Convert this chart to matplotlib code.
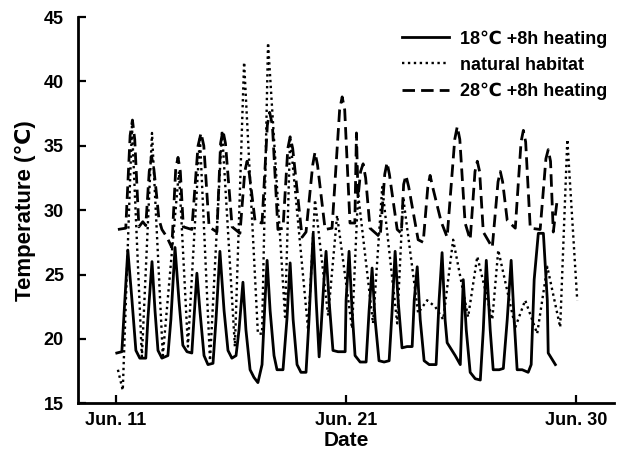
import matplotlib
matplotlib.use("Agg")
import matplotlib.pyplot as plt

plt.rcParams['font.family'] = ['Liberation Sans', 'DejaVu Sans']
plt.rcParams['font.weight'] = 'bold'

# days counted from Jun. 11
tick_pos = [0, 10, 20]
tick_labels = ["Jun. 11", "Jun. 21", "Jun. 30"]

# 18°C +8h heating
heat18_day = [0.04, 0.26, 0.39, 0.52, 0.70, 0.87, 1.04, 1.30, 1.39, 1.57, 1.70, 1.83, 2.00, 2.26,
              2.39, 2.57, 2.74, 2.91, 3.09, 3.30, 3.39, 3.52, 3.65, 3.83, 4.00, 4.22, 4.35, 4.52,
              4.70, 4.87, 5.04, 5.22, 5.35, 5.52, 5.65, 5.83, 6.00, 6.17, 6.35, 6.48, 6.57, 6.70,
              6.87, 7.00, 7.26, 7.43, 7.57, 7.70, 7.87, 8.04, 8.26, 8.39, 8.57, 8.70, 8.83, 8.91,
              9.04, 9.13, 9.26, 9.43, 9.65, 9.96, 10.00, 10.13, 10.26, 10.39, 10.61, 10.87, 11.00,
              11.13, 11.26, 11.43, 11.65, 11.87, 12.00, 12.13, 12.26, 12.43, 12.65, 12.87, 12.96,
              13.09, 13.22, 13.39, 13.61, 13.91, 14.04, 14.17, 14.30, 14.39, 14.74, 14.96, 15.09,
              15.22, 15.39, 15.61, 15.83, 15.96, 16.09, 16.26, 16.39, 16.65, 16.83, 17.00, 17.17,
              17.30, 17.43, 17.65, 17.91, 18.04, 18.17, 18.35, 18.57, 18.74, 18.78, 19.09]
heat18_temp = [18.9, 19.0, 23.0, 26.9, 23.0, 19.1, 18.5, 18.5, 21.5, 26.0, 22.2, 19.1, 18.5, 18.7,
               21.5, 27.1, 23.0, 19.5, 19.0, 18.9, 21.5, 25.1, 22.2, 18.7, 18.0, 18.1, 21.5, 26.8,
               22.2, 19.1, 18.5, 18.7, 20.7, 24.4, 20.7, 17.6, 17.0, 16.6, 18.0, 23.0, 26.1, 22.2,
               18.7, 17.6, 17.6, 21.5, 25.9, 21.5, 18.0, 17.4, 17.4, 21.5, 28.2, 23.0, 18.6, 20.7,
               24.6, 26.8, 23.0, 19.1, 19.0, 19.0, 23.0, 26.8, 22.2, 18.7, 18.2, 18.2, 22.2,
               25.5, 21.5, 18.3, 18.2, 18.3, 22.2, 26.8, 23.0, 19.3, 19.4, 19.4, 23.0,
               25.6, 21.5, 18.3, 18.0, 18.0, 23.0, 26.7, 21.5, 19.7, 18.7, 18.0, 24.6,
               20.7, 17.4, 16.9, 16.8, 20.7, 26.1, 20.7, 17.6, 17.6, 17.7, 21.5, 26.1,
               21.5, 17.6, 17.6, 17.4, 18.0, 24.6, 28.2, 28.2, 23.0, 18.9, 18.0]

# natural habitat
natural_day = [0.09, 0.30, 0.70, 1.13, 1.57, 2.04, 2.74, 3.13, 3.65, 4.09, 4.61, 5.17, 5.57, 6.17,
               6.35, 6.61, 7.35, 7.57, 8.35, 8.65, 9.22, 9.61, 10.26, 10.52, 11.17, 11.57, 12.22,
               12.48, 13.13, 13.52, 13.87, 14.22, 14.65, 15.30, 15.70, 16.35, 16.61, 17.35, 17.78,
               18.30, 18.74, 19.30, 19.61, 20.04]
natural_temp = [17.6, 16.0, 36.5, 18.6, 36.0, 18.7, 33.0, 19.4, 35.7, 18.3, 36.2, 19.4, 41.5, 20.4,
                20.4, 43.0, 21.7, 35.7, 20.7, 30.8, 21.8, 29.6, 20.8, 31.3, 21.2, 31.8, 21.2,
                31.0, 22.0, 23.0, 22.5, 21.5, 27.7, 21.7, 26.4, 21.5, 26.9, 20.9, 23.0,
                20.4, 25.6, 20.9, 35.5, 23.0]

# 28°C +8h heating
heat28_day = [0.09, 0.43, 0.62, 0.72, 0.82, 1.00, 1.17, 1.30,
              1.45, 1.55, 1.65, 1.75, 1.87, 2.00, 2.22, 2.43,
              2.60, 2.70, 2.80, 2.93, 3.30,
              3.57, 3.70, 3.82, 4.05, 4.39,
              4.55, 4.65, 4.76, 5.05, 5.39,
              5.60, 5.70, 5.80, 6.05, 6.35,
              6.58, 6.68, 6.80, 7.04, 7.26,
              7.47, 7.57, 7.68, 8.09, 8.26,
              8.55, 8.65, 8.76, 9.09, 9.39,
              9.72, 9.83, 9.94, 10.17, 10.38, 10.45, 10.52, 10.63, 10.74, 10.85, 11.04, 11.48,
              11.68, 11.78, 11.88, 12.22, 12.40,
              12.50, 12.60, 12.72, 13.13, 13.35,
              13.55, 13.65, 13.76, 14.13, 14.39,
              14.72, 14.83, 14.94, 15.17, 15.39,
              15.60, 15.70, 15.80, 15.96, 16.35,
              16.60, 16.70, 16.80, 17.00, 17.35,
              17.60, 17.70, 17.80, 18.00, 18.43,
              18.68, 18.78, 18.88, 19.00, 19.17]
heat28_temp = [28.5, 28.6, 35.8, 37.0, 35.5, 28.7, 29.1, 28.8,
               33.0, 34.2, 33.2, 31.5, 29.3, 28.5, 27.9, 27.1,
               33.2, 34.1, 33.0, 28.7, 28.5,
               35.0, 36.0, 35.0, 28.7, 28.3,
               35.2, 36.2, 35.2, 28.7, 28.2,
               33.0, 33.8, 32.8, 29.1, 29.0,
               36.6, 37.6, 36.6, 28.5, 28.6,
               34.8, 35.7, 34.8, 27.9, 28.3,
               33.5, 34.5, 33.5, 28.5, 28.6,
               37.8, 38.8, 37.8, 29.0, 29.0, 36.0, 31.0, 33.0, 33.6, 32.5, 28.6, 27.9,
               32.8, 33.7, 32.8, 28.5, 28.2,
               32.0, 32.7, 31.8, 27.7, 27.5,
               31.8, 32.7, 31.8, 29.1, 27.9,
               35.5, 36.5, 35.5, 29.0, 27.7,
               33.0, 33.8, 33.0, 28.3, 27.1,
               32.2, 33.0, 32.2, 29.2, 28.6,
               35.3, 36.2, 35.3, 28.6, 28.5,
               34.0, 34.7, 33.8, 28.3, 30.8]

fig = plt.figure(figsize=(6.18, 4.5), dpi=100)
ax = fig.add_axes([0.126, 0.104, 0.868, 0.858])

ax.plot(heat18_day, heat18_temp, color='black', lw=2.0, ls='-', label='18\u2103 +8h heating')
ax.plot(natural_day, natural_temp, color='black', lw=1.7, ls=(0, (1, 1.5)), label='natural habitat')
ax.plot(heat28_day, heat28_temp, color='black', lw=2.0, ls=(0, (4.5, 2.2)), label='28\u2103 +8h heating')

ax.set_xlim(-1.65, 21.65)
ax.set_ylim(15, 45)
ax.set_yticks(range(15, 46, 5))
ax.set_xticks(tick_pos)
ax.set_xticklabels(tick_labels)

for s in ['top', 'right']:
    ax.spines[s].set_visible(False)
for s in ['left', 'bottom']:
    ax.spines[s].set_linewidth(2.0)
ax.tick_params(direction='in', length=6, width=1.6, labelsize=13)
ax.tick_params(axis='y', pad=10)
ax.tick_params(axis='x', pad=6)

ax.set_xlabel('Date', fontsize=15, fontweight='bold', labelpad=2)
ax.set_ylabel('Temperature (\u2103)', fontsize=16, fontweight='bold', labelpad=6)

leg = ax.legend(loc='upper right', frameon=False, fontsize=13, handlelength=2.6,
                handletextpad=0.6, labelspacing=0.5, borderaxespad=0.0,
                bbox_to_anchor=(1.0, 0.985))

fig.savefig('out.png', dpi=100)
